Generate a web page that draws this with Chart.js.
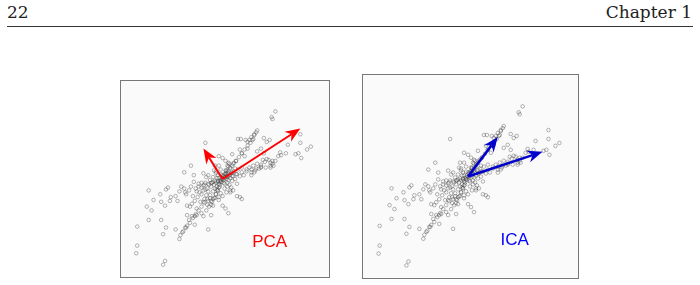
<!DOCTYPE html>
<html>
<head>
<meta charset="utf-8">
<script src="https://cdn.jsdelivr.net/npm/chart.js@4"></script>
<style>
  body { margin: 0; background: #fff; width: 700px; height: 285px; position: relative; overflow: hidden; }
  .hdr { position: absolute; top: 2px; font-family: "DejaVu Serif", serif; font-size: 17px; color: #222; }
  #rule { position: absolute; left: 7px; top: 26px; width: 686px; height: 1px; background: #333; }
  .panel { position: absolute; border: 1px solid #777; background: #fafafa; }
  .panel canvas { display: block; }
</style>
</head>
<body>
<div class="hdr" style="left:7px">22</div>
<div class="hdr" style="right:8px">Chapter 1</div>
<div id="rule"></div>

<div class="panel" style="left:120px; top:80px; width:208px; height:196px">
  <canvas id="pca" width="208" height="196"></canvas>
</div>
<div class="panel" style="left:362px; top:74px; width:215px; height:203px">
  <canvas id="ica" width="215" height="203"></canvas>
</div>

<script>
var outerPoints = [
  [55,71],[51,65],[52,63],[36,51],[35,49],[33,46],[32,42],[31,41],[16,42],[19,42],
  [24,41],[28,41],[26,39],[43,43],[46,39],[49,41],[81,47],[92,34],[88,31],[81,38],
  [68,36],[66,27],[76,26],[79,27],[82,22],[60,28],[61,25],[58,24],[55,19],[52,16],
  [50,12],[-18,38],[40,32],[36,29],[43,27],[46,21],[50,17],[53,14],[26,32],[23,24],
  [20,27],[18,31],[14,19],[10,26],[-4,24],[0,22],[3,19],[6,17],[-33,14],[-40,7],
  [-30,4],[-20,6],[-17,2],[-77,-12],[-72,-22],[-79,-29],[-74,-33],[-65,-16],[-64,-24],[-59,-11],
  [-57,-9],[-60,-28],[-55,-23],[-54,-19],[-49,-18],[-47,-23],[-45,-13],[-39,-14],[-37,-28],[-34,-29],
  [-32,-26],[-27,-31],[-29,-23],[-22,-16],[-19,-21],[-20,-24],[-15,-23],[-10,-21],[-7,-16],[-10,-28],
  [-4,-19],[18,-19],[20,-21],[15,-18],[3,-31],[6,-36],[0,-28],[-89,-50],[-77,-43],[-64,-43],
  [-59,-51],[-62,-58],[-49,-53],[-45,-63],[-44,-59],[-42,-56],[-39,-51],[-37,-49],[-35,-43],[-32,-39],
  [-29,-39],[-27,-38],[-37,-38],[-29,-48],[-20,-39],[-12,-38],[-15,-53],[-89,-70],[-90,-78],[-60,-86],
  [-62,-90],[-17,-33],[-14,-29],[-22,-36]
];
var steepPoints = [
  [-25,-33],[-22,-29],[-19,-25],[-16,-21],[-13,-17],[-10,-13],[-8,-10],[-6,-8],[-4,-5],[-2,-3],
  [2,3],[4,6],[6,8],[8,11],[10,14],[12,17],[14,19],[17,23],[20,27],[23,31],[26,35],[29,38],
  [-28,-37],[-31,-41],[-34,-46],[-38,-51],[-41,-55],[-3,-8],[-5,-12],[-7,-16],[-9,-20],[-11,-24],
  [-12,-27],[2,5],[4,9],[6,13],[7,16],[30,44],[33,47]
];
var armPoints = [
  [5,2],[10,3],[15,5],[20,7],[25,8],[30,10],[35,11],[40,13],[-5,-2],[-10,-3],
  [-15,-5],[-20,-7],[-25,-8],[28,12],[32,14],[36,16],[40,15],[44,18],[48,20],[52,19],
  [34,9],[38,11],[30,7],[45,12],[50,14],[25,10],[42,20],[30,4],[33,7],[40,12],
  [5,14],[8,12],[11,16],[13,11],[10,7],[3,9],[6,6],[-4,14],[-2,10],[-7,8]
];
var corePoints = [
  [0,0],[1,-1],[-1,1],[2,1],[-2,-1],[3,2],[-3,-2],[1,3],[-1,-3],[4,0],
  [-4,1],[0,4],[1,-4],[5,3],[-5,-3],[3,5],[-3,-6],[6,-1],[-6,1],[2,-5],
  [-2,5],[7,4],[-7,-4],[8,1],[-8,-2],[5,-4],[-5,4],[9,6],[-9,-6],[10,-2],
  [-10,2],[4,8],[-4,-9],[11,3],[-11,-4],[7,-6],[-7,6],[12,8],[-12,-8],[13,0],
  [-13,-1],[-6,-11],[14,5],[-14,-6],[15,-5],[-15,4],[9,-9],[-9,9],[16,10],[-16,-10],
  [18,3],[-18,-4],[11,-12],[20,12],[-20,-12],[22,4],[-22,-4],[8,-14],[-8,14],[-30,-3],
  [-25,-5],[-22,-9],[-18,-11],[-15,-13],[-28,-10],[-33,-8],[-24,-14],[-19,-6],[-12,-4],[-35,-12],
  [-40,-10],[-38,-16],[-43,-8],[-5,-12],[-2,-15],[2,-10],[5,-8],[8,-12],[-8,-20],[-12,-23],
  [-16,-27],[-4,-22],[0,-18],[4,-14],[-26,-19],[-23,-24],[-17,-17],[-13,-20],[-27,-13],[-31,-18]
];
var xRange = [-101, 106];
var yRange = [-98, 98];

var pcaArrows = [[81, 53], [-20, 32]];
var icaArrows = [[30, 40], [75, 25]];
var pcaLabel = { text: 'PCA', at: [49, -66] };
var icaLabel = { text: 'ICA', at: [47, -65] };

var allPoints = outerPoints.concat(steepPoints, armPoints, corePoints).map(p => ({ x: p[0], y: p[1] }));

var arrowPlugin = {
  id: 'arrows',
  afterDatasetsDraw(chart, args, opts) {
    var ctx = chart.ctx;
    var xs = chart.scales.x, ys = chart.scales.y;
    var x0 = xs.getPixelForValue(0), y0 = ys.getPixelForValue(0);
    ctx.save();
    ctx.strokeStyle = opts.color;
    ctx.fillStyle = opts.color;
    ctx.lineWidth = opts.width;
    opts.vectors.forEach(function (v) {
      var x1 = xs.getPixelForValue(v[0]), y1 = ys.getPixelForValue(v[1]);
      var a = Math.atan2(y1 - y0, x1 - x0);
      var len = 15, half = 6;
      ctx.beginPath();
      ctx.moveTo(x0, y0);
      ctx.lineTo(x1 - Math.cos(a) * len * 0.7, y1 - Math.sin(a) * len * 0.7);
      ctx.stroke();
      ctx.beginPath();
      ctx.moveTo(x1, y1);
      ctx.lineTo(x1 - Math.cos(a) * len - Math.sin(a) * half, y1 - Math.sin(a) * len + Math.cos(a) * half);
      ctx.lineTo(x1 - Math.cos(a) * len * 0.7, y1 - Math.sin(a) * len * 0.7);
      ctx.lineTo(x1 - Math.cos(a) * len + Math.sin(a) * half, y1 - Math.sin(a) * len - Math.cos(a) * half);
      ctx.closePath();
      ctx.fill();
    });
    ctx.font = '17px "Liberation Sans", Arial, sans-serif';
    ctx.textAlign = 'center';
    ctx.textBaseline = 'middle';
    ctx.fillStyle = opts.labelColor;
    ctx.fillText(opts.label.text, xs.getPixelForValue(opts.label.at[0]), ys.getPixelForValue(opts.label.at[1]));
    ctx.restore();
  }
};

function make_panel(id, vectors, color, width, label, labelColor) {
  var ctx = document.getElementById(id);
  new Chart(ctx, {
    type: 'scatter',
    data: {
      datasets: [{
        data: allPoints,
        pointRadius: 1.8,
        pointBorderWidth: 0.7,
        pointBackgroundColor: 'rgba(0,0,0,0)',
        pointBorderColor: 'rgba(50,50,50,0.5)'
      }]
    },
    options: {
      responsive: false,
      animation: false,
      layout: { padding: 0 },
      scales: {
        x: { type: 'linear', min: xRange[0], max: xRange[1], display: false },
        y: { type: 'linear', min: yRange[0], max: yRange[1], display: false }
      },
      plugins: {
        legend: { display: false },
        tooltip: { enabled: false },
        arrows: { vectors: vectors, color: color, width: width, label: label, labelColor: labelColor }
      }
    },
    plugins: [arrowPlugin]
  })
}

make_panel('pca', pcaArrows, '#ff0000', 2, pcaLabel, '#ff0000');
make_panel('ica', icaArrows, '#0000cc', 2.5, icaLabel, '#0000ff');
</script>
</body>
</html>
